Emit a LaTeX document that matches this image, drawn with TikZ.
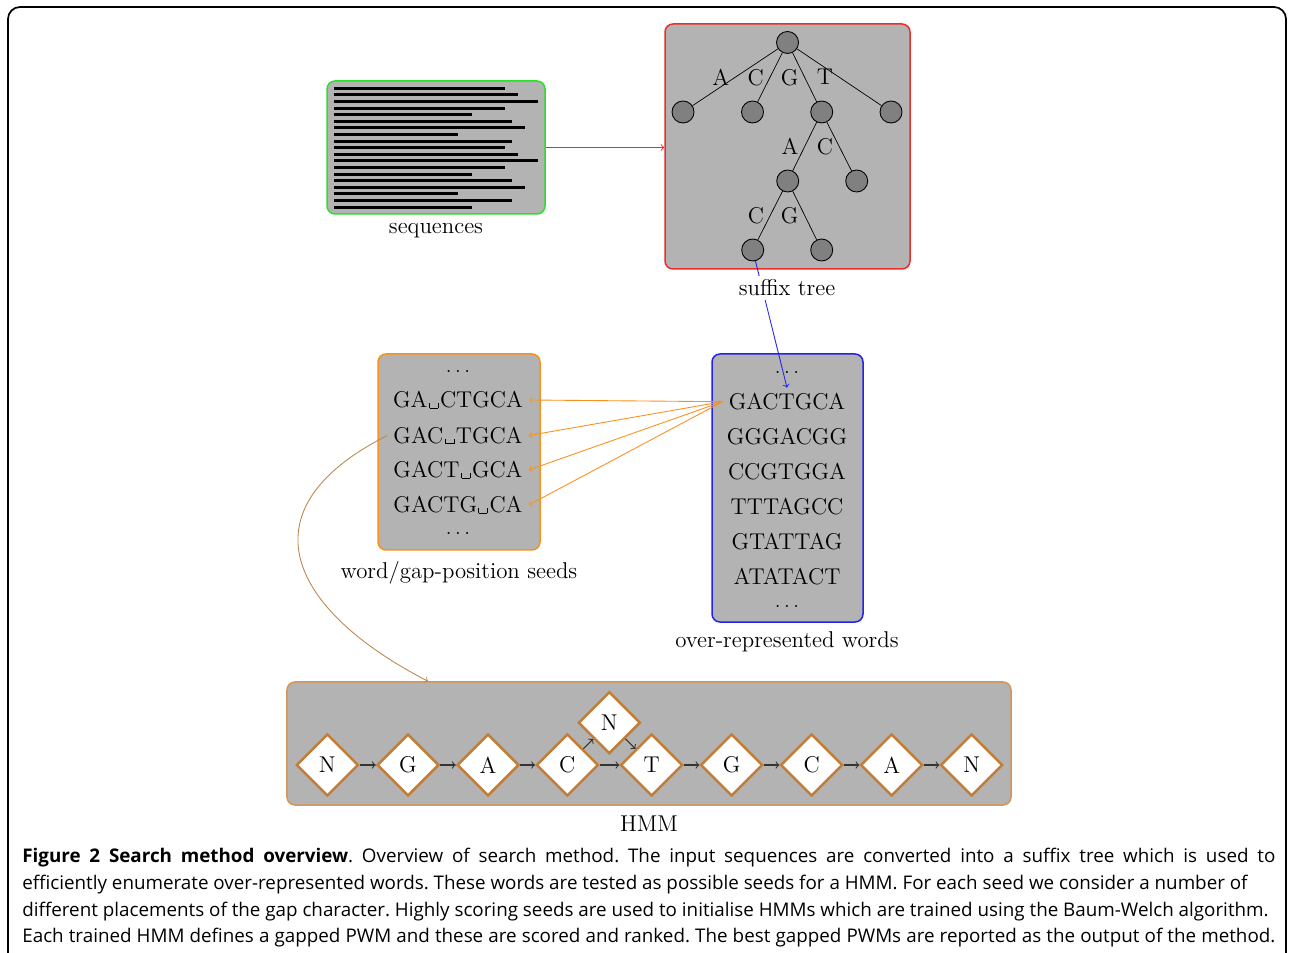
\documentclass[tikz,border=0pt]{standalone}
\usepackage{fontspec}
\usepackage{tikz}
\usetikzlibrary{shapes.geometric}
\newfontfamily\capfont{Open Sans}
\definecolor{seqgreen}{RGB}{40,225,40}
\definecolor{treered}{RGB}{235,45,45}
\definecolor{wordblue}{RGB}{35,35,235}
\definecolor{seedorange}{RGB}{250,145,30}
\definecolor{hmmbrown}{RGB}{210,150,90}
\definecolor{diabrown}{RGB}{195,125,55}
\definecolor{boxgray}{RGB}{179,179,179}
\definecolor{nodegray}{RGB}{128,128,128}
\newcommand{\figfont}{\fontsize{13}{15.6}\selectfont}
% the gap character of a seed
\newcommand{\gapsym}{\kern0.06em\raisebox{-0.3pt}{\rule{0.45pt}{0.22em}\rule{0.36em}{0.45pt}\rule{0.45pt}{0.22em}}\kern0.06em}

\begin{document}
\begin{tikzpicture}[x=0.2mm,y=-0.2mm,font=\figfont,
  panel/.style={draw,fill=boxgray,rounded corners=1.6mm,line width=0.3mm,inner sep=0pt},
  tnode/.style={circle,draw,fill=nodegray,minimum size=4.4mm,inner sep=0pt,line width=0.5pt},
  word/.style={text height=8.9pt,text depth=0pt},
  dotsrow/.style={inner sep=0pt},
  tag/.style={fill=white,inner sep=2pt},
  state/.style={diamond,draw=diabrown,fill=white,line width=0.5mm,
                minimum size=12.4mm,inner sep=0pt},
  hop/.style={->,black!80,line width=0.6pt}
]
\useasboundingbox (0,0) rectangle (1289,953);
% figure frame
\begin{scope}
\clip (0,0) rectangle (1289,953);
\draw[line width=0.35mm,rounded corners=2.4mm] (8,1000) -- (8,7) -- (1286,7) -- (1286,1000);
\end{scope}

% panels
\node[panel,draw=seqgreen,minimum width=43.6mm,minimum height=26.6mm] (seq) at (436,147.5) {};
\node[panel,draw=treered,minimum width=49mm,minimum height=49mm] (tree) at (787.5,146.5) {};
\node[panel,draw=seedorange,minimum width=32.4mm,minimum height=39.2mm] (seeds) at (459,452) {};
\node[panel,draw=wordblue,minimum width=30.2mm,minimum height=53.6mm] (words) at (787.5,488) {};
\node[panel,draw=hmmbrown,minimum width=144.8mm,minimum height=24.6mm] (hmm) at (649,743.5) {};

% sequences
\foreach \len [count=\i from 0] in {171,184,204,171,138,178,191,124,178,171,184,204,171,138,178,191,124,178,138}
  \draw[line width=0.6mm] (334,{88.3+6.6*\i}) -- ++(\len,0);

% suffix tree
\node[tnode] (r)  at (787.5,42.5) {};
\node[tnode] (a1) at (683,112) {};
\node[tnode] (a2) at (752.5,112) {};
\node[tnode] (a3) at (821.7,112) {};
\node[tnode] (a4) at (891,112) {};
\node[tnode] (b1) at (787.7,181) {};
\node[tnode] (b2) at (856.7,181) {};
\node[tnode] (c1) at (752.7,250) {};
\node[tnode] (c2) at (821.7,250) {};
\draw (r) -- node[left] {A} (a1);
\draw (r) -- node[left] {C} (a2);
\draw (r) -- node[left] {G} (a3);
\draw (r) -- node[left] {T} (a4);
\draw (a3) -- node[left] {A} (b1);
\draw (a3) -- node[left] {C} (b2);
\draw (b1) -- node[left] {C} (c1);
\draw (b1) -- node[left] {G} (c2);

% over-represented words
\node[dotsrow] (wt) at (787,372) {$\ldots$};
\node[word] (w1) at (787,401.7) {GACTGCA};
\node[word] (w2) at (787,436.7) {GGGACGG};
\node[word] (w3) at (787,471.7) {CCGTGGA};
\node[word] (w4) at (787,506.7) {TTTAGCC};
\node[word] (w5) at (787,541.7) {GTATTAG};
\node[word] (w6) at (787,576.7) {ATATACT};
\node[dotsrow] (wb) at (787,606) {$\ldots$};

% seeds
\node[dotsrow] (st) at (458,371) {$\ldots$};
\node[word] (s1) at (458,400) {GA\gapsym CTGCA};
\node[word] (s2) at (458,435.5) {GAC\gapsym TGCA};
\node[word] (s3) at (458,470) {GACT\gapsym GCA};
\node[word] (s4) at (458,505) {GACTG\gapsym CA};
\node[dotsrow] (sb) at (458,533) {$\ldots$};

% hmm
\node[state] (d1) at (327.3,765) {N};
\node[state] (d2) at (408,765) {G};
\node[state] (d3) at (488,765) {A};
\node[state] (d4) at (567.3,765) {C};
\node[state] (d5) at (651.7,765) {T};
\node[state] (d6) at (731.7,765) {G};
\node[state] (d7) at (811.7,765) {C};
\node[state] (d8) at (891.7,765) {A};
\node[state] (d9) at (971.7,765) {N};
\node[state] (dg) at (609.3,722.7) {N};
\foreach \a/\b in {d1/d2,d2/d3,d3/d4,d4/d5,d5/d6,d6/d7,d7/d8,d8/d9,d4/dg,dg/d5}
  \draw[hop] (\a) -- (\b);

% connectors
\draw[->,treered,line width=0.5pt] (seq.east) -- (seq.east -| tree.west);
\draw[->,wordblue,line width=0.5pt] (c1) -- (w1.north);
\foreach \s in {s1,s2,s3,s4}
  \draw[->,seedorange,line width=0.5pt] (w1.west) -- (\s.east);
\draw[->,hmmbrown!90!black,line width=0.5pt] (s2.west) .. controls (240,510) and (290,610) .. (428,0 |- hmm.north);

% labels
\node[tag] (seqlab)   at (436,231) {sequences};
\node[tag] (treelab)  at (787,288) {suffix tree};
\node[tag] (seedlab)  at (459,573) {word/gap-position seeds};
\node[tag] (wordlab)  at (787,642) {over-represented words};
\node[tag] (hmmlab)   at (649,824) {HMM};

% caption
\node[anchor=north west,inner sep=0pt,align=left,
      font=\capfont\fontsize{10.7}{15.2}\selectfont\frenchspacing] (cap) at (22,848)
  {\hbox to 250.6mm{\textbf{Figure 2 Search method overview}. Overview of search method. The input sequences are converted into a suffix tree which is used to}\\
   efficiently enumerate over-represented words. These words are tested as possible seeds for a HMM. For each seed we consider a number of\\
   different placements of the gap character. Highly scoring seeds are used to initialise HMMs which are trained using the Baum-Welch algorithm.\\
   \hbox to 250.6mm{Each trained HMM defines a gapped PWM and these are scored and ranked. The best gapped PWMs are reported as the output of the method.}};
\end{tikzpicture}
\end{document}
